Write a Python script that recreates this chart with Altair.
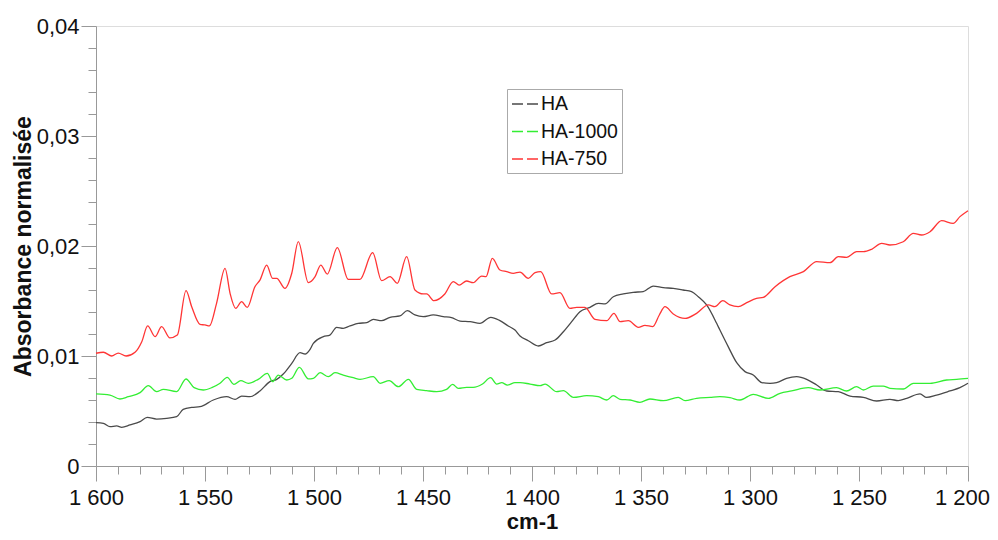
import altair as alt
import pandas as pd

# HA (black)
ha_w = [1600, 1596.6, 1593.6, 1590.5, 1588.2, 1584.4, 1579.8, 1576.5, 1572.2, 1567.6, 1563, 1560, 1556.1,
        1552.3, 1546.2, 1540.1, 1536.2, 1533.2, 1529.4, 1524.8, 1520.2, 1517.1, 1514.1, 1510.2, 1506.4,
        1504.1, 1501.8, 1500.3, 1495.7, 1492.7, 1489.6, 1486.6, 1483.5, 1479.7, 1475.8, 1472.8, 1469,
        1465.1, 1460.6, 1457.2, 1453.7, 1449.9, 1445.3, 1440.7, 1436.9, 1433, 1428.4, 1423.9, 1418.9,
        1414.7, 1410.9, 1407.8, 1405.5, 1401.7, 1397.1, 1393.3, 1389.4, 1385.6, 1381.8, 1378, 1373.4,
        1369.6, 1366.5, 1362.7, 1358.1, 1353.6, 1349, 1344.4, 1339.8, 1335.2, 1330.7, 1326.8, 1323.7,
        1319.9, 1315.3, 1313.8, 1310, 1306.1, 1302.3, 1298.5, 1294.6, 1290.8, 1287.8, 1283.2, 1278.6,
        1274, 1269.4, 1264.8, 1259.5, 1254.1, 1248, 1241.9, 1235.8, 1232, 1228.1, 1222, 1219, 1214.4,
        1208.3, 1203.7, 1200]
ha_v = [0.00394, 0.00388, 0.00358, 0.00364, 0.00352, 0.00373, 0.00403, 0.00442, 0.00427, 0.00433, 0.00448,
        0.00515, 0.00533, 0.00539, 0.0060, 0.0063, 0.00606, 0.00636, 0.0063, 0.00682, 0.00767, 0.00788,
        0.00836, 0.00933, 0.0103, 0.01018, 0.01061, 0.01115, 0.01176, 0.0119, 0.01261, 0.01252, 0.01273,
        0.01297, 0.01303, 0.01333, 0.01321, 0.01352, 0.01364, 0.01412, 0.01373, 0.01358, 0.01373, 0.01358,
        0.01348, 0.01318, 0.01312, 0.01297, 0.01352, 0.01321, 0.01273, 0.01236, 0.01182, 0.01139, 0.01091,
        0.01121, 0.01145, 0.01221, 0.01312, 0.01403, 0.01442, 0.01479, 0.01473, 0.01539, 0.01564, 0.01579,
        0.01585, 0.01636, 0.01621, 0.01615, 0.0160, 0.01585, 0.01539, 0.01464, 0.01297, 0.01236, 0.01085,
        0.00939, 0.00858, 0.00827, 0.00758, 0.00752, 0.00758, 0.00797, 0.00812, 0.00788, 0.00736, 0.00682,
        0.00676, 0.00636, 0.00624, 0.00591, 0.00606, 0.00594, 0.00615, 0.00655, 0.00624, 0.00645, 0.00682,
        0.00712, 0.00752]

# HA-1000 (green)
g_w = [1600, 1593.6, 1589, 1585.2, 1579.8, 1576, 1572.2, 1569.1, 1563, 1558.7, 1555, 1550.8, 1546.9, 1543.1,
       1539.8, 1536.7, 1533.6, 1530.1, 1525.6, 1521.4, 1519, 1516.4, 1512.5, 1510.2, 1506.7, 1502.6, 1500.3,
       1497.2, 1493.4, 1490.4, 1486.6, 1482, 1478.9, 1472.8, 1469.7, 1465.5, 1461.3, 1456.7, 1452.9, 1448.3,
       1443.7, 1439.2, 1436.4, 1433.8, 1430, 1427, 1422.7, 1419, 1416.2, 1413.9, 1411.3, 1407.8, 1405.5,
       1400.9, 1396.3, 1394, 1388.7, 1385.6, 1381, 1374.9, 1369.6, 1365.7, 1362.7, 1359.6, 1355, 1350.5,
       1345.9, 1339.8, 1332.9, 1329.8, 1324.5, 1318.3, 1313.8, 1309.2, 1304.6, 1298.5, 1291.6, 1286.2,
       1280.9, 1273.3, 1267.9, 1260.3, 1255.7, 1251.1, 1248, 1243.5, 1238.9, 1235.8, 1229.7, 1225.1, 1217.4,
       1209.8, 1205.2, 1200]
g_v = [0.00655, 0.00645, 0.00609, 0.0063, 0.00667, 0.0073, 0.00676, 0.00697, 0.00676, 0.00791, 0.00712,
       0.00691, 0.00712, 0.00752, 0.00806, 0.00742, 0.00776, 0.00752, 0.00788, 0.00842, 0.00767, 0.00827,
       0.00782, 0.00797, 0.00897, 0.00792, 0.00797, 0.00848, 0.00812, 0.00848, 0.00827, 0.00803, 0.00788,
       0.00812, 0.00752, 0.00776, 0.00721, 0.00788, 0.00697, 0.00685, 0.00676, 0.00697, 0.00742, 0.00706,
       0.00715, 0.00715, 0.00745, 0.00803, 0.00745, 0.00758, 0.00736, 0.00758, 0.00758, 0.00745, 0.0073,
       0.00745, 0.00676, 0.00685, 0.00624, 0.00639, 0.0063, 0.0060, 0.00639, 0.00606, 0.0060, 0.00579,
       0.00609, 0.00594, 0.00624, 0.00594, 0.00615, 0.00624, 0.0063, 0.00621, 0.0060, 0.00652, 0.00615,
       0.00661, 0.00682, 0.00712, 0.00691, 0.00712, 0.00682, 0.00721, 0.00691, 0.00727, 0.00727, 0.00706,
       0.0070, 0.00752, 0.00752, 0.00782, 0.00788, 0.00797]

# HA-750 (red)
r_w = [1600, 1596.6, 1592.8, 1589.8, 1586.2, 1582.1, 1579, 1576.3, 1572.9, 1569.9, 1566.1, 1562.7, 1558.7,
       1556.1, 1552.3, 1550, 1548, 1544.7, 1540.8, 1538.5, 1535.9, 1533.2, 1530.6, 1527.1, 1524.8, 1521.7,
       1519, 1517.1, 1513.3, 1510.2, 1507.2, 1502.6, 1499.5, 1496.9, 1493.9, 1489.3, 1484.3, 1478.9, 1473.1,
       1469, 1465.1, 1461.8, 1457.5, 1453.7, 1449.9, 1448.3, 1445, 1440, 1436.1, 1433.4, 1430, 1427, 1423.1,
       1421.1, 1418.2, 1414.7, 1411.6, 1408.6, 1405.5, 1401.7, 1398.6, 1396, 1391, 1387.2, 1382.6, 1379.5,
       1375.7, 1371.1, 1365.7, 1362.4, 1359.6, 1355.8, 1351.2, 1348.2, 1344.6, 1341.6, 1339, 1335.2, 1329.8,
       1324.5, 1319.1, 1316.1, 1312.5, 1309.2, 1305.4, 1301.5, 1297, 1293.9, 1288.5, 1281.7, 1275.5, 1269.4,
       1263.3, 1259.5, 1255.7, 1251.1, 1248, 1244.2, 1239.6, 1235.8, 1229.7, 1225.1, 1221.3, 1217.4, 1212.1,
       1206.8, 1203.7, 1200]
r_v = [0.01025, 0.01034, 0.0100, 0.01027, 0.0100, 0.01034, 0.0113, 0.01273, 0.01176, 0.01267, 0.01164,
       0.0119, 0.01594, 0.01448, 0.01288, 0.01282, 0.01273, 0.01479, 0.01797, 0.0157, 0.01433, 0.01494,
       0.01442, 0.0163, 0.0169, 0.01827, 0.01706, 0.01706, 0.01615, 0.01752, 0.0204, 0.01667, 0.01721,
       0.01827, 0.01745, 0.01985, 0.01697, 0.01697, 0.0194, 0.01685, 0.01721, 0.01661, 0.01903, 0.0160,
       0.01564, 0.01564, 0.01503, 0.01564, 0.01676, 0.01645, 0.01682, 0.01667, 0.01727, 0.01721, 0.01888,
       0.01782, 0.01767, 0.01752, 0.01762, 0.01706, 0.01758, 0.01767, 0.01564, 0.01576, 0.01433, 0.01442,
       0.01442, 0.01333, 0.01321, 0.01388, 0.01312, 0.01321, 0.01261, 0.01279, 0.01267, 0.01373, 0.01448,
       0.01382, 0.01342, 0.01388, 0.01464, 0.01448, 0.01503, 0.01464, 0.01448, 0.01485, 0.01524, 0.01533,
       0.0163, 0.01721, 0.01767, 0.01858, 0.01848, 0.01903, 0.01897, 0.01948, 0.01948, 0.0197, 0.02024,
       0.02009, 0.02039, 0.02115, 0.021, 0.0213, 0.0223, 0.02206, 0.02267, 0.02321]

series_names = ["HA", "HA-1000", "HA-750"]
series_colors = ["#4a4a4a", "#33ee33", "#ff3535"]

x_ticks = list(range(1200, 1601, 10))
y_ticks = [round(i * 0.002, 3) for i in range(0, 21)]

rows = []
for name, ws, vs in [("HA", ha_w, ha_v), ("HA-1000", g_w, g_v), ("HA-750", r_w, r_v)]:
    for i, (w, v) in enumerate(zip(ws, vs)):
        rows.append({"serie": name, "cm": w, "abs": v, "i": i})
df = pd.DataFrame(rows)

FONT = "Liberation Sans"

x_axis = alt.Axis(
    values=x_ticks,
    labelExpr="datum.value % 50 == 0 ? replace(format(datum.value, ','), ',', ' ') : ''",
    tickSize={"condition": {"test": "datum.value % 50 == 0", "value": 15}, "value": 8},
    labelOffset={"condition": {"test": "datum.value == 1200", "value": -6}, "value": 0},
    labelFlush=False, labelOverlap=False, grid=False,
    domainColor="#999999", tickColor="#999999", labelColor="#111111",
    labelFont=FONT, labelFontSize=22, labelPadding=6,
    title="cm-1", titleFont=FONT, titleFontSize=22, titleFontWeight="bold",
    titleColor="#111111", titlePadding=3,
)
y_axis = alt.Axis(
    values=y_ticks,
    labelExpr="abs(datum.value*100 - round(datum.value*100)) < 0.001 ? (datum.value == 0 ? '0' : replace(format(datum.value, '.2f'), '.', ',')) : ''",
    tickSize={"condition": {"test": "abs(datum.value*100 - round(datum.value*100)) < 0.001", "value": 15}, "value": 8},
    labelOverlap=False, grid=False,
    domainColor="#999999", tickColor="#999999", labelColor="#111111",
    labelFont=FONT, labelFontSize=22, labelPadding=2,
    title="Absorbance normalisée", titleFont=FONT, titleFontSize=23, titleFontWeight="bold",
    titleColor="#111111", titlePadding=1,
)

chart = alt.Chart(df).mark_line(strokeWidth=1.3, interpolate="monotone").encode(
    x=alt.X("cm:Q", scale=alt.Scale(domain=[1200, 1600], reverse=True, nice=False, zero=False), axis=x_axis),
    y=alt.Y("abs:Q", scale=alt.Scale(domain=[0, 0.04], nice=False), axis=y_axis),
    color=alt.Color("serie:N", scale=alt.Scale(domain=series_names, range=series_colors),
                    legend=alt.Legend(title=None, orient="none", legendX=411, legendY=63,
                                      strokeColor="#aaaaaa", padding=4, symbolType="M-1.5,0L1.5,0",
                                      symbolSize=400, symbolStrokeWidth=1.5, symbolDash=[11, 4],
                                      symbolOffset=5,
                                      labelFont=FONT, labelFontSize=19.5, labelColor="#111111",
                                      labelOffset=3, rowPadding=6.5)),
    order="i:Q",
).properties(
    width=872, height=440,
    autosize=alt.AutoSizeParams(type="none"),
    padding={"left": 88, "top": 18, "right": 22, "bottom": 66},
).configure_view(stroke=None).configure(background="white")

chart.save("out.html", embed_options={"renderer": "svg", "actions": False})
